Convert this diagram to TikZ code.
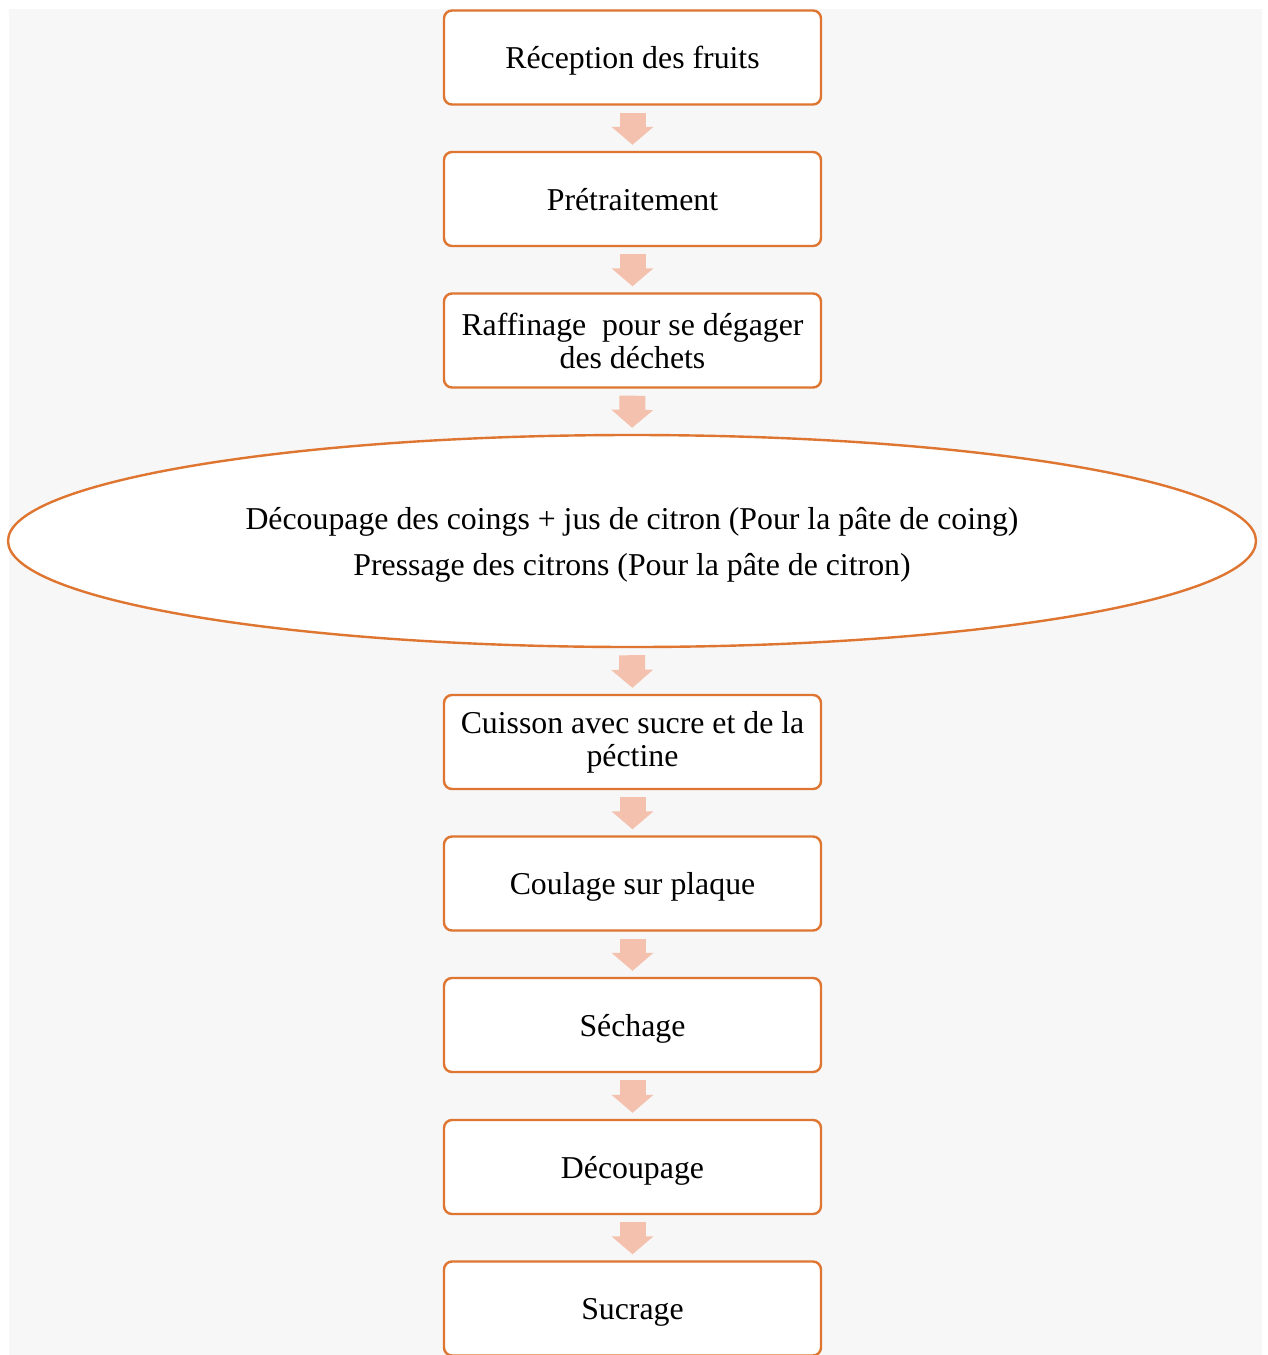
\documentclass[tikz,border=0pt]{standalone}
\usepackage{fontspec}
\setmainfont{Liberation Serif}
\usetikzlibrary{arrows.meta,shapes.geometric}
\definecolor{bgc}{HTML}{F7F7F7}
\definecolor{edgec}{RGB}{222,117,48}
\definecolor{arrc}{HTML}{F4C1AE}
\tikzset{
  stepbox/.style={draw=edgec, fill=white, line width=2.4pt, rounded corners=8pt,
    minimum width=377pt, minimum height=94pt, inner sep=0pt, align=center,
    font=\fontsize{31.8}{33}\selectfont},
  onebox/.style={stepbox, text depth=0pt},
  bigoval/.style={draw=edgec, fill=white, line width=2.4pt, ellipse,
    minimum width=1248pt, minimum height=212pt, inner sep=0pt, align=center,
    text depth=0pt, font=\fontsize{31.8}{33}\selectfont},
  fatarrow/.style={draw=arrc, line width=26pt, shorten <=7pt, shorten >=6pt,
    -{Triangle[width=41pt,length=18pt]}}
}
\begin{document}
\begin{tikzpicture}[x=1pt,y=-1pt]
\useasboundingbox (0,0) rectangle (1267,1355);
\fill[bgc] (9,9) rectangle (1262,1360);
\node[onebox] (n1) at (632.5,57.5) {Réception des fruits};
\node[onebox] (n2) at (632.5,199) {Prétraitement};
\node[stepbox] (n3) at (632.5,340.5) {Raffinage\ \ pour se dégager\\des déchets};
\node[bigoval] (n4) at (632,541) {Découpage des coings + jus de citron (Pour la pâte de coing)\\[13pt]Pressage des citrons (Pour la pâte de citron)};
\node[stepbox] (n5) at (632.5,742) {Cuisson avec sucre et de la\\péctine};
\node[onebox] (n6) at (632.5,883.5) {Coulage sur plaque};
\node[onebox] (n7) at (632.5,1025) {Séchage};
\node[onebox] (n8) at (632.5,1167) {Découpage};
\node[onebox] (n9) at (632.5,1308.5) {Sucrage};
\draw[fatarrow] (n1.south) -- (n2.north);
\draw[fatarrow] (n2.south) -- (n3.north);
\draw[fatarrow] (n3.south) -- (n4.north);
\draw[fatarrow] (n4.south) -- (n5.north);
\draw[fatarrow] (n5.south) -- (n6.north);
\draw[fatarrow] (n6.south) -- (n7.north);
\draw[fatarrow] (n7.south) -- (n8.north);
\draw[fatarrow] (n8.south) -- (n9.north);
\end{tikzpicture}
\end{document}
